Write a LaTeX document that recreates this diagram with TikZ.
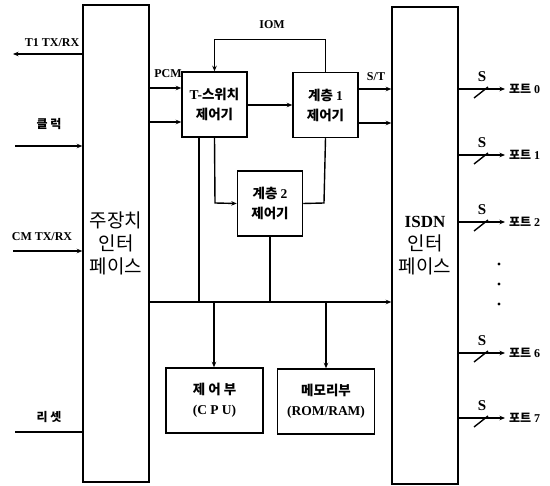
\documentclass[tikz,border=0pt]{standalone}
\usepackage{fontspec}
\setmainfont{Liberation Serif}
\newfontfamily\kr{Noto Sans CJK KR}
\usetikzlibrary{arrows.meta}

\begin{document}
\begin{tikzpicture}[x=1pt,y=-1pt,
  blk/.style={draw,line width=1.5pt,minimum width=65pt,minimum height=65pt,
    inner sep=1pt,align=center,font=\kr\bfseries\fontsize{13.5}{20}\selectfont},
  wide/.style={blk,minimum width=97pt},
  tall/.style={draw,line width=1.5pt,minimum width=66pt,minimum height=477pt,
    inner sep=0pt,align=center,font=\kr\fontsize{19}{23}\selectfont},
  ar/.style={-{Stealth[length=5.5pt,width=4.5pt]},line width=1.4pt},
  ln/.style={line width=1.4pt},
  lbl/.style={font=\bfseries\fontsize{12}{14}\selectfont,inner sep=1pt},
  klbl/.style={font=\kr\bfseries\fontsize{12}{14}\selectfont,inner sep=1pt}
]
\useasboundingbox (0,0) rectangle (550,486);

% ---- big interface blocks
\node[tall] (host) at (116,243.5) {주장치\\인터\\페이스};
\node[tall] (isdn) at (425,245.5) {{\rmfamily\bfseries\fontsize{17}{23}\selectfont ISDN}\\인터\\페이스};

% ---- controllers
\node[blk] (tsw) at (214.5,104.5) {{\rmfamily T-}스위치\\제어기};
\node[blk] (lay1) at (325.5,105) {계층 {\rmfamily 1}\\제어기};
\node[blk] (lay2) at (270,203.5) {계층 {\rmfamily 2}\\제어기};
\node[wide] (cpu) at (214.5,400.5) {제 어 부\\{\rmfamily (C P U)}};
\node[wide] (mem) at (326,401.5) {메모리부\\{\rmfamily (ROM/RAM)}};

% ---- host side signals
\coordinate (t1) at (13,54);
\coordinate (clk) at (15,146);
\coordinate (cm) at (13,251);
\coordinate (rst) at (15,432);
\draw[ar] (host.west |- t1) -- (t1);
\draw[ar] (clk) -- (host.west |- clk);
\draw[ar] (cm) -- (host.west |- cm);
\draw[ln] (rst) -- (host.west |- rst);
\node[lbl] (t1lbl) at (52,43) {T1 TX/RX};
\node[klbl] (clklbl) at (49,124) {클 럭};
\node[lbl] (cmlbl) at (42,237) {CM TX/RX};
\node[klbl] (rstlbl) at (49,417) {리 셋};

% ---- PCM and IOM
\draw[ar] (host.east |- 0,88) -- (tsw.west |- 0,88);
\draw[ar] (host.east |- 0,122) -- (tsw.west |- 0,122);
\node[lbl] (pcm) at (168,74) {PCM};
\draw[ar] (lay1.north) -- ++(0,-32) -| (tsw.north);
\node[lbl] (iom) at (272,25) {IOM};
\draw[ar] (tsw.east |- 0,105) -- (lay1.west |- 0,105);

% ---- S/T towards ISDN
\draw[ar] (lay1.east |- 0,89) -- (isdn.west |- 0,89);
\draw[ar] (lay1.east |- 0,123) -- (isdn.west |- 0,123);
\node[lbl] (st) at (376,77) {S/T};

% ---- layer 2 links
\draw[ar] (tsw.south) -- (215,203) -- (lay2.west);
\draw[ln] (lay1.south) -- (324,203) -- (lay2.east);

% ---- system bus
\coordinate (busl) at (host.east |- 0,302);
\draw[ar] (busl) -- (isdn.west |- busl);
\draw[ln] (199,137) -- (199,302);
\draw[ln] (lay2.south) -- (270,302);
\draw[ar] (214,302) -- (cpu.north -| 214,0);
\draw[ar] (326,302) -- (mem.north);

% ---- S ports
\foreach \py/\n in {89/0,155/1,222/2,353/6,418/7}{
  \coordinate (p\n) at (505,\py);
  \draw[ar] (isdn.east |- p\n) -- (p\n);
  \draw[ln] (474,\py+9) -- (488,\py-2);
  \node[font=\bfseries\fontsize{15}{16}\selectfont,inner sep=0pt] (s\n) at (482,\py-12) {S};
  \node[klbl,anchor=west] (pl\n) at (508,\py) {포트 {\rmfamily \n}};
}
\foreach \dy in {264,284,304}
  \fill (499,\dy) circle (1.6pt);

\end{tikzpicture}
\end{document}
